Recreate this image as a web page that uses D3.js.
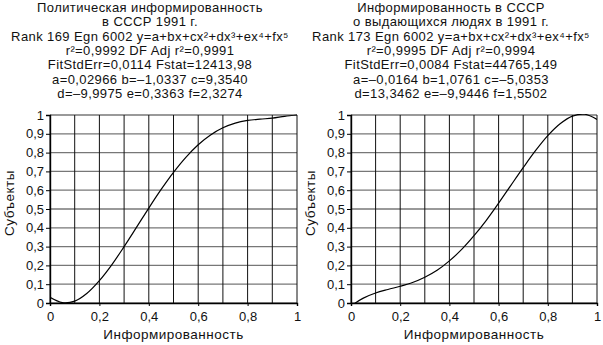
<!DOCTYPE html>
<html><head><meta charset="utf-8">
<script src="https://cdn.jsdelivr.net/npm/d3@7"></script>
<style>body{margin:0;background:#fff}svg{display:block}text{font-family:"Liberation Sans",Arial,sans-serif;fill:#111}</style>
</head><body><svg id="c" width="603" height="345"></svg>
<script>
const xs = [0,0.05,0.1,0.15,0.2,0.25,0.3,0.35,0.4,0.45,0.5,0.55,0.6,0.65,0.7,0.75,0.8,0.85,0.9,0.95,1];
const leftY = [0.03,0.002,0.01,0.052,0.119,0.203,0.30,0.402,0.505,0.604,0.695,0.775,0.842,0.894,0.932,0.957,0.971,0.978,0.983,0.993,1.0];
const rightY = [-0.016,0.026,0.053,0.072,0.089,0.109,0.137,0.174,0.224,0.285,0.358,0.44,0.531,0.626,0.72,0.81,0.89,0.953,0.994,1.004,0.976];
const xTicks = [0,0.2,0.4,0.6,0.8,1];
const yTicks = [0,0.1,0.2,0.3,0.4,0.5,0.6,0.7,0.8,0.9,1];
const gridX = [0,0.1,0.2,0.3,0.4,0.5,0.6,0.7,0.8,0.9,1];
const leftTitle = ["Политическая информированность","в СССР 1991 г.","Rank 169 Egn 6002 y=a+bx+cx²+dx³+ex⁴+fx⁵","r²=0,9992 DF Adj r²=0,9991","FitStdErr=0,0114 Fstat=12413,98","a=0,02966 b=–1,0337 c=9,3540","d=–9,9975 e=0,3363 f=2,3274"];
const rightTitle = ["Информированность в СССР","о выдающихся людях в 1991 г.","Rank 173 Egn 6002 y=a+bx+cx²+dx³+ex⁴+fx⁵","r²=0,9995 DF Adj r²=0,9994","FitStdErr=0,0084 Fstat=44765,149","a=–0,0164 b=1,0761 c=–5,0353","d=13,3462 e=–9,9446 f=1,5502"];
const xLabel = "Информированность", yLabel = "Субъекты";
const fmt = v => (v===0?"0":v===1?"1":String(v).replace(".",","));

const svg = d3.select("#c");
function panel(id, x0, x1, titleCx, yLabX, title, ys){
  const top=115, bot=303;
  const x = d3.scaleLinear().domain([0,1]).range([x0,x1]);
  const y = d3.scaleLinear().domain([0,1]).range([bot,top]);
  const g = svg.append("g");
  g.append("clipPath").attr("id",id).append("rect").attr("x",x0).attr("y",top-1).attr("width",x1-x0).attr("height",bot-top+1);
  g.selectAll(".hg").data(yTicks).join("line").attr("x1",x0).attr("x2",x1).attr("y1",d=>y(d)).attr("y2",d=>y(d)).attr("stroke","#777").attr("stroke-width",1.3);
  g.selectAll(".vg").data(gridX).join("line").attr("x1",d=>x(d)).attr("x2",d=>x(d)).attr("y1",top).attr("y2",bot).attr("stroke","#111").attr("stroke-width",1);
  const ya = g.append("g").attr("transform",`translate(${x0},0)`).call(d3.axisLeft(y).tickValues(yTicks).tickFormat(fmt).tickSize(4).tickPadding(2));
  const xa = g.append("g").attr("transform",`translate(0,${bot})`).call(d3.axisBottom(x).tickValues(xTicks).tickFormat(fmt).tickSize(3).tickPadding(6));
  [ya,xa].forEach(a=>{a.select(".domain").attr("stroke","#000").attr("stroke-width",1.4);a.selectAll(".tick line").attr("stroke","#000");a.selectAll("text").attr("font-size",13).attr("font-family","Liberation Sans, Arial, sans-serif").attr("fill","#111");});
  g.append("path").datum(xs.map((v,i)=>[v,ys[i]])).attr("clip-path",`url(#${id})`)
    .attr("d",d3.line().x(d=>x(d[0])).y(d=>y(d[1])).curve(d3.curveCatmullRom))
    .attr("fill","none").attr("stroke","#000").attr("stroke-width",1.2);
  const t = g.append("text").attr("text-anchor","middle").attr("font-size",13).attr("letter-spacing",0.4);
  title.forEach((s,i)=>t.append("tspan").attr("x",titleCx).attr("y",12+i*14.3).text(s));
  g.append("text").attr("x",(x0+x1)/2).attr("y",339).attr("text-anchor","middle").attr("font-size",13.5).attr("letter-spacing",0.5).text(xLabel);
  g.append("text").attr("transform",`translate(${yLabX},203) rotate(-90)`).attr("text-anchor","middle").attr("font-size",13.5).attr("letter-spacing",0.5).text(yLabel);
}
panel("cl",50,297,150,14,leftTitle,leftY);
panel("cr",351,597,451,315,rightTitle,rightY);
</script></body></html>
